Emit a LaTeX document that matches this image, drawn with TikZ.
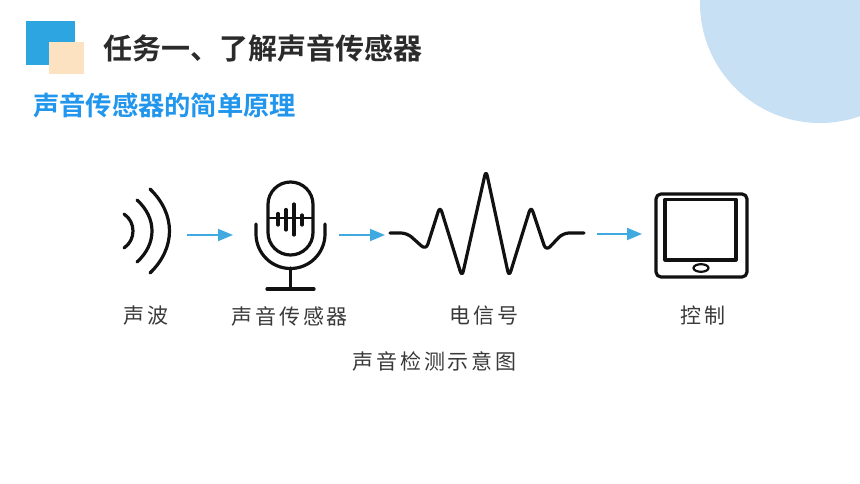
\documentclass[tikz,border=0pt]{standalone}
\usepackage{fontspec}
\usetikzlibrary{arrows.meta}
\newfontfamily\cjkbold{Noto Sans CJK SC Bold}
\newfontfamily\cjkspaced[LetterSpace=14]{Noto Sans CJK SC}
\definecolor{sqblue}{HTML}{2CA5E0}
\definecolor{sqcream}{HTML}{FCE2C1}
\definecolor{circblue}{HTML}{C8E0F4}
\definecolor{subblue}{HTML}{2196EC}
\definecolor{titlegray}{HTML}{2B2B2B}
\definecolor{arrowblue}{HTML}{3FA9E0}
\definecolor{labelgray}{HTML}{3A3A3A}
\definecolor{iconblack}{HTML}{111111}
\tikzset{
  icon/.style={draw=iconblack,line width=3.2pt,line cap=round,line join=round},
  thinicon/.style={draw=iconblack,line width=2.2pt,line cap=round},
  flow/.style={draw=arrowblue,line width=1.8pt,-{Triangle[length=15pt,width=12pt,fill=arrowblue]}},
  title/.style={font=\fontsize{29}{32}\selectfont\cjkbold,text=titlegray,inner sep=0pt},
  subtitle/.style={font=\fontsize{26.3}{30}\selectfont\cjkbold,text=subblue,inner sep=0pt},
  caption/.style={font=\fontsize{21}{24}\selectfont\cjkspaced,text=labelgray,inner sep=0pt}
}
\begin{document}
\begin{tikzpicture}[x=1pt,y=-1pt]
\useasboundingbox (0,0) rectangle (860,484);
\fill[white] (0,0) rectangle (860,484);
% decorations
\begin{scope}
\clip (0,0) rectangle (860,484);
\fill[circblue] (820,3) circle[radius=120];
\end{scope}
\fill[sqblue] (26,21) rectangle (75,65);
\fill[sqcream] (49,42) rectangle (84,74);
% headings
\node[title,anchor=west] (ttl) at (103,48) {任务一、了解声音传感器};
\node[subtitle,anchor=west] (sub) at (33,105) {声音传感器的简单原理};
% sound waves
\draw[icon] (124,214) .. controls (136,222) and (136,240) .. (124,248);
\draw[icon] (137,200) .. controls (157,218) and (157,244) .. (137,262);
\draw[icon] (150,189) .. controls (176,214) and (176,248) .. (150,273);
% microphone
\draw[icon] (268,204.5) arc[start angle=180,end angle=360,radius=22.5] -- (313,232.5) arc[start angle=0,end angle=180,radius=22.5] -- cycle;
\draw[thinicon] (268,218) -- (313,218);
\draw[icon] (278,213.5) -- (278,225);
\draw[icon] (286,209.5) -- (286,230);
\draw[icon] (294,204) -- (294,235);
\draw[icon] (302,215) -- (302,225);
\draw[icon] (256,224) -- (256,234) arc[start angle=180,end angle=0,radius=34.5] -- (325,224);
\draw[icon] (290.5,268) -- (290.5,289);
\draw[icon] (267,289) -- (314,289);
% signal
\draw[icon,rounded corners=6pt] (390,233) -- (407,233) -- (426,250) -- (440,206) -- (462,277) -- (486,170) -- (509,277) -- (531,206) -- (546,251) -- (563,233) -- (584,233);
% tablet
\draw[icon,rounded corners=5pt] (656,194) rectangle (747,277);
\draw[icon] (665,199.5) rectangle (736,260);
\draw[thinicon] (701,268) ellipse[x radius=7.5,y radius=3.8];
% arrows
\coordinate (a1s) at (187,235); \coordinate (a1e) at (233,235);
\coordinate (a2s) at (339,235); \coordinate (a2e) at (385,235);
\coordinate (a3s) at (597,234); \coordinate (a3e) at (642,234);
\draw[flow] (a1s) -- (a1e);
\draw[flow] (a2s) -- (a2e);
\draw[flow] (a3s) -- (a3e);
% labels
\node[caption,anchor=west] (l1) at (123,316) {声波};
\node[caption,anchor=west] (l2) at (231,316) {声音传感器};
\node[caption,anchor=west] (l3) at (449,316) {电信号};
\node[caption,anchor=west] (l4) at (680,315) {控制};
\node[caption,anchor=west] (l5) at (352,361) {声音检测示意图};
\end{tikzpicture}
\end{document}
